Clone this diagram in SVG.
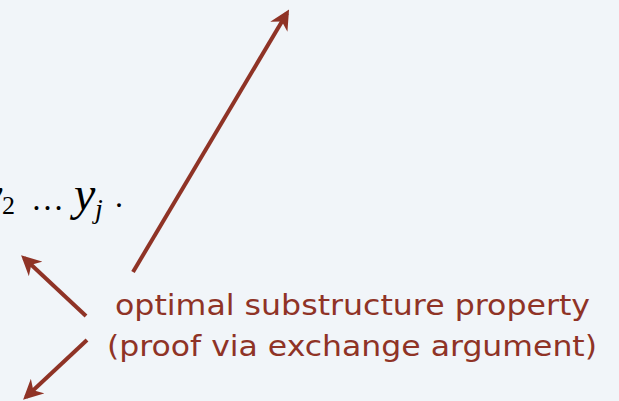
<svg xmlns="http://www.w3.org/2000/svg" width="619" height="401" viewBox="0 0 619 401">
<defs>
<style>
.bg{fill:#f1f5f9}
.math{font-family:"Liberation Serif",serif;fill:#000}
.it{font-style:italic}
.lbl{font-family:"DejaVu Sans","Liberation Sans",sans-serif;font-size:28px;fill:#8f3326}
.conn{stroke:#8f3326;stroke-width:4;fill:none;marker-end:url(#ah)}
</style>
<marker id="ah" viewBox="0 0 10 10" refX="8" refY="5" markerWidth="5" markerHeight="5" markerUnits="strokeWidth" orient="auto">
<path d="M0,0 L10,5 L0,10 L3,5 Z" fill="#8f3326"/>
</marker>
</defs>
<rect class="bg" x="0" y="0" width="619" height="401"/>
<g id="math">
<text class="math it" x="-19" y="210" font-size="48">y</text>
<text class="math" x="2" y="214" font-size="26">2</text>
<text class="math" x="31" y="210" font-size="33">…</text>
<text class="math it" x="74" y="210" font-size="48">y</text>
<text class="math it" x="95" y="218" font-size="28">j</text>
<text class="math" x="115" y="207" font-size="32">.</text>
</g>
<g id="label">
<text class="lbl" x="115" y="315" textLength="475" lengthAdjust="spacingAndGlyphs">optimal substructure property</text>
<text class="lbl" x="107" y="356" textLength="490" lengthAdjust="spacingAndGlyphs">(proof via exchange argument)</text>
</g>
<g id="connectors">
<line class="conn" x1="133" y1="272" x2="287" y2="13"/>
<line class="conn" x1="86" y1="316" x2="24" y2="258"/>
<line class="conn" x1="87" y1="340" x2="26" y2="397"/>
</g>
</svg>
